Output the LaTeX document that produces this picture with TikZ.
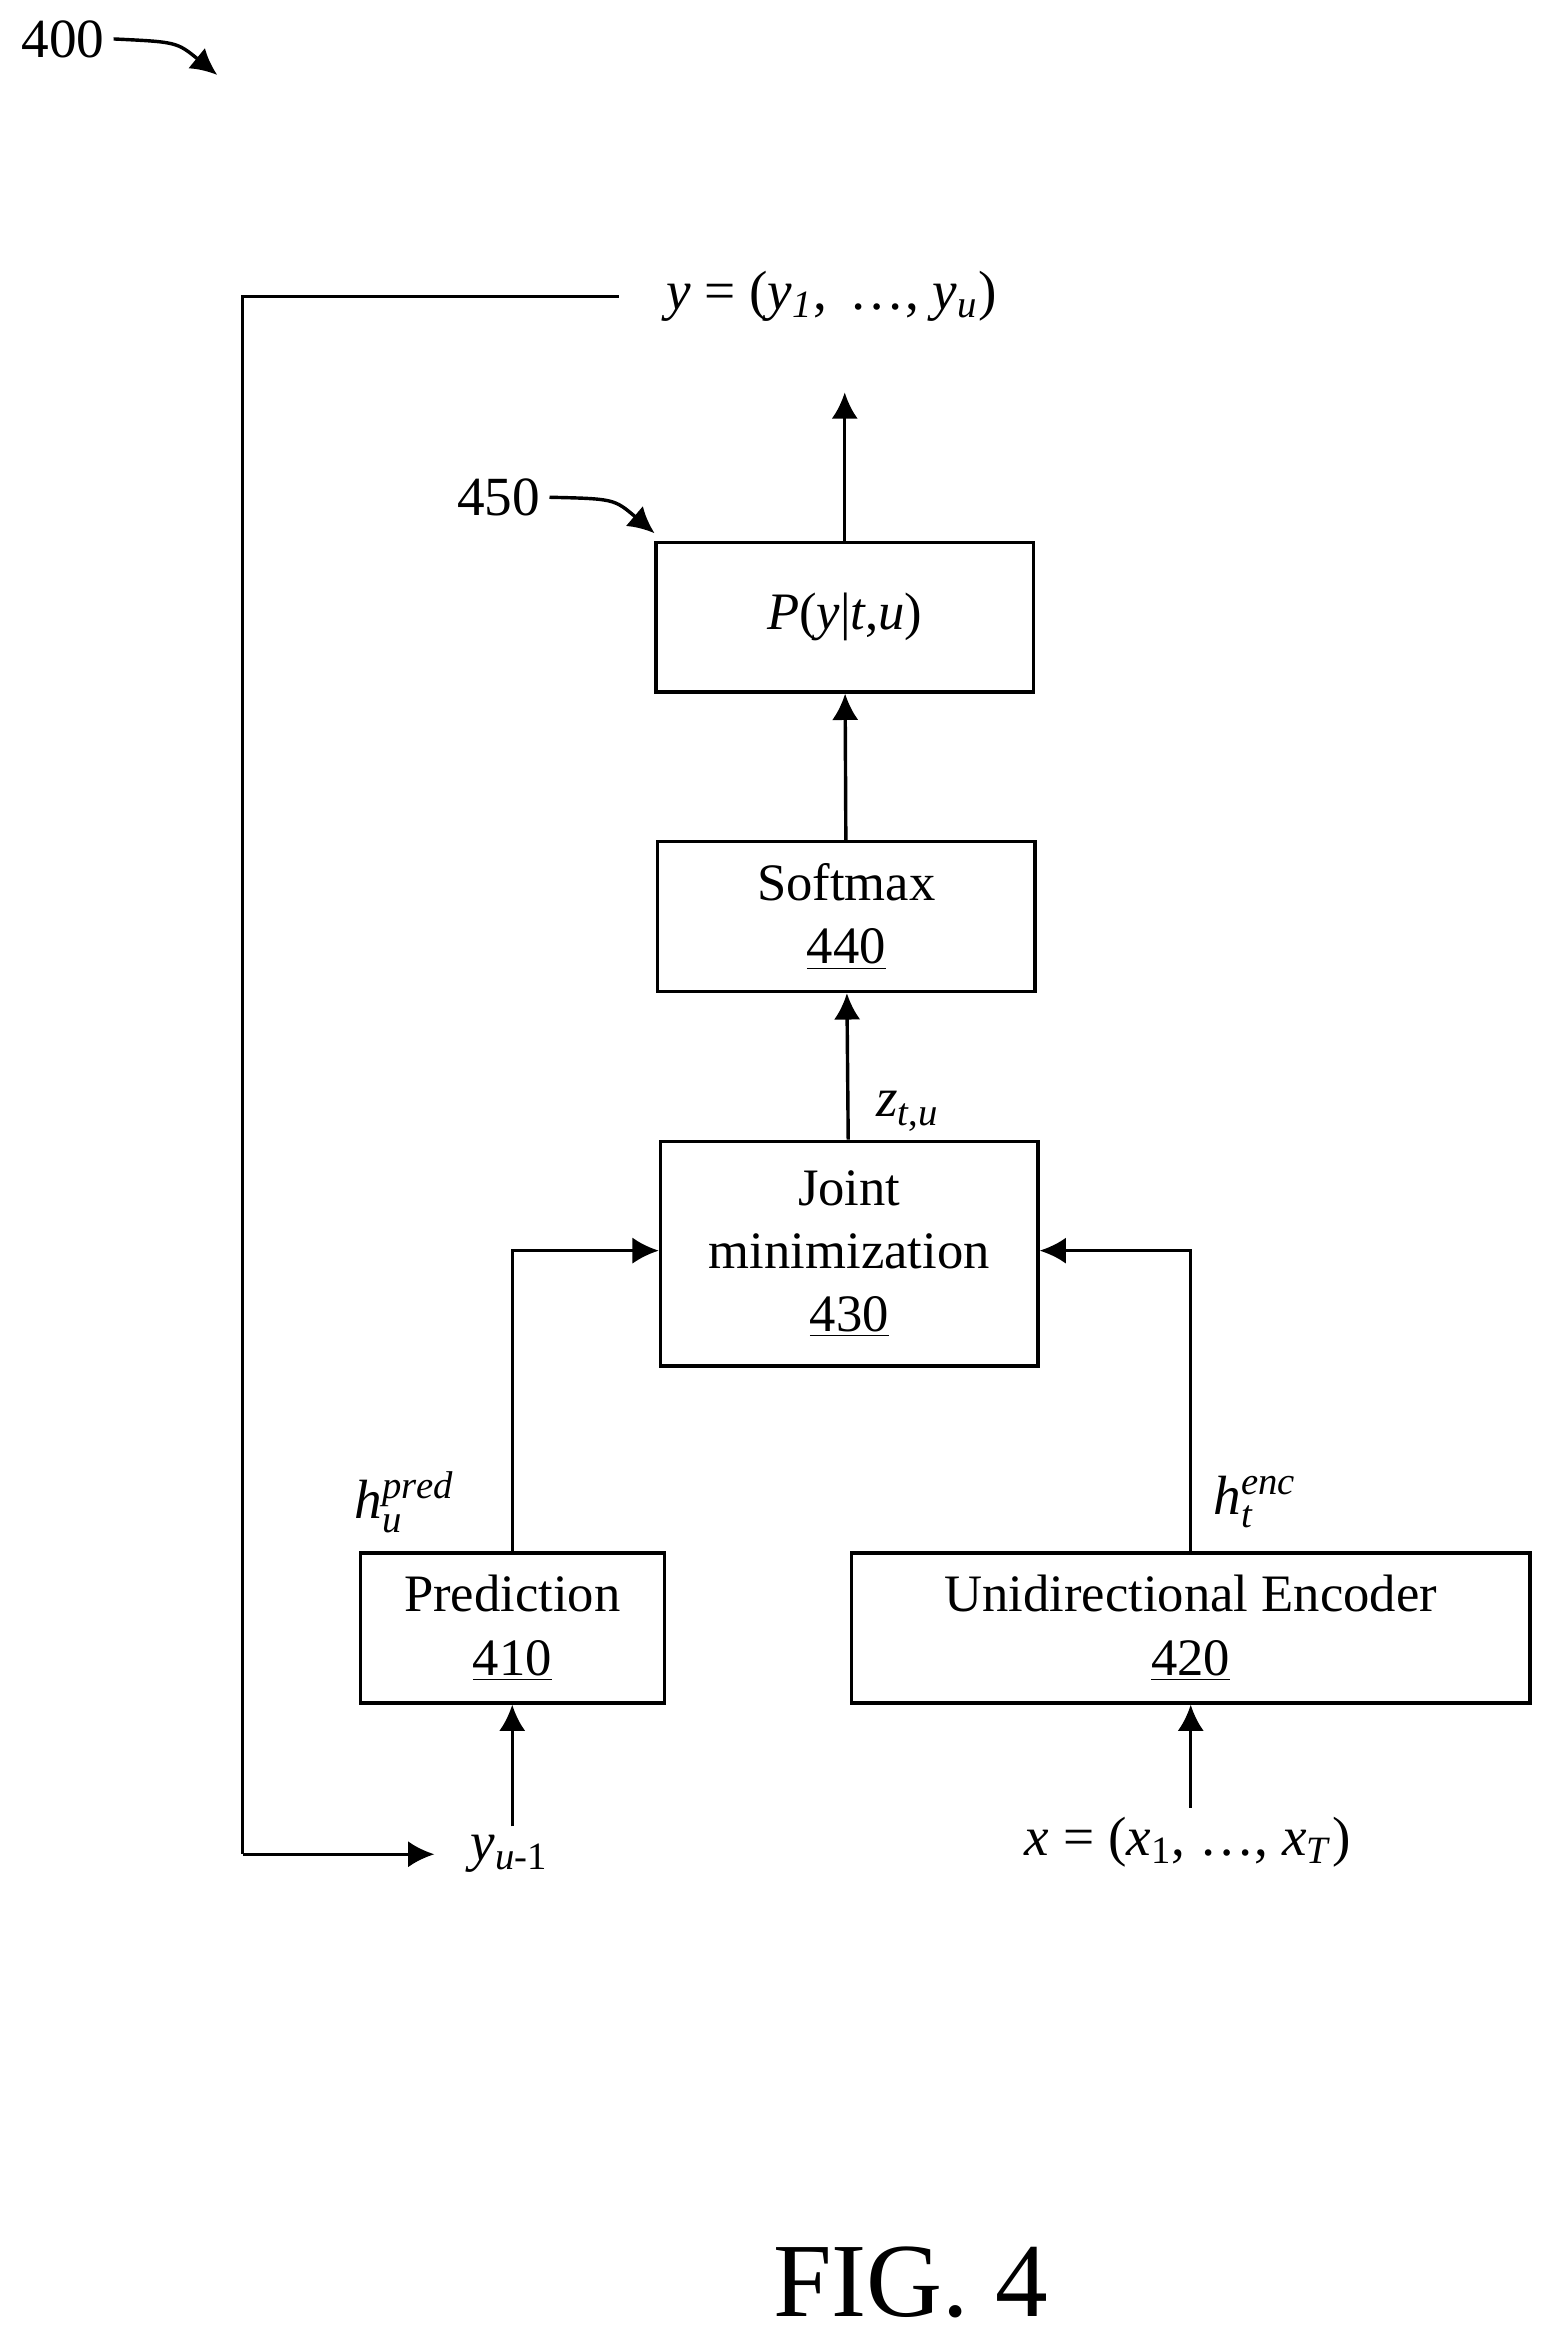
\documentclass[tikz,border=0pt]{standalone}
\usepackage{fontspec}
\setmainfont{Liberation Serif}
\usetikzlibrary{calc}
\usetikzlibrary{arrows.meta}
\tikzset{
	blk/.style={draw,line width=1.3pt,minimum width=#1*0.02cm,minimum height=2cm,align=center,font=\fontsize{20}{26}\selectfont},
	lbl/.style={font=\fontsize{21}{25}\selectfont},
	arr/.style={line width=1.3pt,-{Latex[length=10pt,width=10pt]}}
}
\begin{document}
\begin{tikzpicture}[x=0.02cm,y=-0.02cm]
	\useasboundingbox (0,0) rectangle (1030,1559);
		\node[blk=252] (P) at (564,412) {\textit{P}(\textit{y}|\textit{t},\textit{u})};
		\node[blk=252] (S) at (565,612) {Softmax\\[-2pt]\underline{440}};
		\node[blk=252,minimum height=3cm] (J) at (567,837) {Joint\\[-2pt]minimization\\[-2pt]\underline{430}};
		\node[blk=203] (R) at (342,1087) {Prediction\\[-2pt]\underline{410}};
		\node[blk=453] (E) at (795,1087) {Unidirectional Encoder\\[-2pt]\underline{420}};
		\node[lbl] (Y) at (555,198) {\textit{y} = (\textit{y}\textsubscript{\textit{1}}, \,…, \textit{y}\textsubscript{\textit{u}})};
		\node[lbl] (Yp) at (340,1238) {\textit{y}\textsubscript{\textit{u}-1}};
		\node[lbl] (X) at (793,1230) {\textit{x} = (\textit{x}\textsubscript{1}, …, \textit{x}\textsubscript{\textit{T}})};
		\coordinate (O) at (564,262);
		\coordinate (F1) at (413,198);
		\coordinate (F2) at (162,198);
		\coordinate (F3) at (162,1238);
		\coordinate (F4) at (290,1238);
		\coordinate (A) at (342,835);
		\coordinate (B) at (795,835);
		\draw[arr] (J) -- (S);
		\draw[arr] (S) -- (P);
		\draw[arr] (P) -- (O);
		\draw[line width=1.3pt] (F1) -- (F2) -- (F3);
		\draw[arr] (F3) -- (F4);
		\draw[arr] (Yp.north -| R) -- (R);
		\draw[arr] (X.north -| E) -- (E);
		\draw[arr] (R.north) -- (A) -- (J.west |- A);
		\draw[arr] (E.north) -- (B) -- (J.east |- B);
		\node[lbl] (hp) at (270,1003) {\textit{h}$^{\mathit{pred}}_{\mathit{u}}$};
		\node[lbl] (he) at (838,1003) {\textit{h}$^{\mathit{enc}}_{\mathit{t}}$};
		\node[lbl] (z) at (606,742) {\textit{z}\textsubscript{\textit{t},\textit{u}}};
		\node[lbl] (n400) at (42,26) {400};
		\node[lbl] (n450) at (333,332) {450};
		\draw[arr] (n400.east) .. controls (118,28) .. (145,50);
		\draw[arr] (n450.east) .. controls (410,333) .. (437,356);
		\node[font=\fontsize{40}{46}\selectfont] (fig) at (608,1524) {FIG. 4};
\end{tikzpicture}
\end{document}
